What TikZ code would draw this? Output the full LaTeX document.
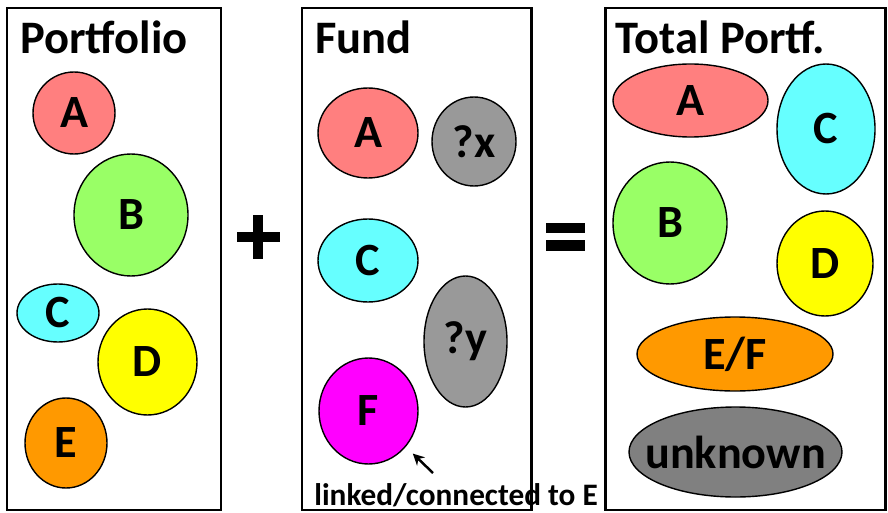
\documentclass[tikz,border=0pt]{standalone}
\usepackage{fontspec}
\setmainfont{Carlito}
\usepackage{xcolor}
\usetikzlibrary{shapes.geometric,arrows.meta}

\definecolor{partA}{HTML}{FF7F7F}
\definecolor{partB}{HTML}{99FF66}
\definecolor{partC}{HTML}{66FFFF}
\definecolor{partD}{HTML}{FFFF00}
\definecolor{partE}{HTML}{FF9900}
\definecolor{partF}{HTML}{FF00FF}
\definecolor{guess}{HTML}{999999}
\definecolor{rest}{HTML}{808080}

\begin{document}
\begin{tikzpicture}[x=0.02cm, y=-0.02cm,
    blob/.style={ellipse, draw, line width=0.8pt, inner sep=0pt,
      font=\fontsize{26.3}{31}\selectfont\bfseries},
    wh/.style 2 args={minimum width=#1*0.02cm, minimum height=#2*0.02cm},
    panel/.style={draw, line width=1.7pt},
    title/.style={anchor=base west, inner sep=0pt,
      font=\fontsize{26.5}{31}\selectfont\bfseries}]
  \useasboundingbox (0,0) rectangle (888,513);

  % the three boxes
  \draw[panel] (7,8) rectangle (221,510);
  \draw[panel] (302,8) rectangle (531,510);
  \draw[panel] (605,8) rectangle (885,510);

  \node[title] (tport) at (20,54) {Portfolio};
  \node[title] (tfund) at (315,54) {Fund};
  \node[title] (ttot) at (615,54) {Total Portf.};

  % portfolio
  \node[blob, fill=partA, wh={82}{82}] (pA) at (74,113) {A};
  \node[blob, fill=partB, wh={114}{122}] (pB) at (131,215) {B};
  \node[blob, fill=partC, wh={82}{58}] (pC) at (58,313) {C};
  \node[blob, fill=partD, wh={99}{106}] (pD) at (147.5,362) {D};
  \node[blob, fill=partE, wh={82}{90}] (pE) at (66,443) {E};

  % plus
  \draw[line width=6pt] (258,215) -- (258,259) (237,237) -- (280,237);

  % fund
  \node[blob, fill=partA, wh={100}{90}] (fA) at (368,133) {A};
  \node[blob, fill=guess, wh={84}{89}] (fx) at (474,141.5) {?x};
  \node[blob, fill=partC, wh={100}{83}] (fC) at (368,260.5) {C};
  \node[blob, fill=guess, wh={83}{131}] (fy) at (465.5,341.5) {?y};
  \node[blob, fill=partF, wh={99}{106}] (fF) at (368.5,411) {F};

  \coordinate (linkfoot) at (433,473);
  \draw[-{Stealth[length=6.5pt,width=6.5pt]}, line width=1.4pt, shorten >=5.5pt]
    (linkfoot) -- (fF);
  \node[anchor=base west, inner sep=0pt,
    font=\fontsize{17.8}{21}\selectfont\bfseries] (linknote) at (314,505)
    {linked/connected to E};

  % equals
  \draw[line width=5.7pt] (546,228) -- (585,228) (546,245.5) -- (585,245.5);

  % total portfolio
  \node[blob, fill=partA, wh={155}{73}] (tA) at (690.5,100.5) {A};
  \node[blob, fill=partC, wh={98}{130}] (tC) at (826,129) {C};
  \node[blob, fill=partB, wh={114}{122}] (tB) at (670,223) {B};
  \node[blob, fill=partD, wh={96}{105}] (tD) at (825,263.5) {D};
  \node[blob, fill=partE, wh={196}{74}] (tEF) at (735,354) {E/F};
  \node[blob, fill=rest, wh={213}{90}, inner xsep=-9pt] (tU) at (735.5,452) {unknown};
\end{tikzpicture}
\end{document}
